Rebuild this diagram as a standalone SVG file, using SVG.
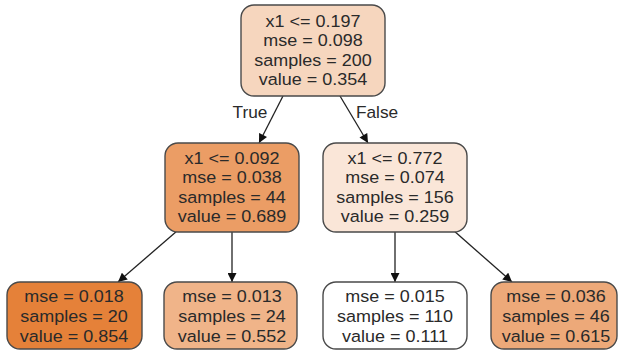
<svg xmlns="http://www.w3.org/2000/svg" width="621" height="351" viewBox="0 0 621 351">
<defs>
<marker id="arr" viewBox="0 0 10 10" refX="10" refY="5" markerWidth="10" markerHeight="9" markerUnits="userSpaceOnUse" orient="auto">
<path d="M0,0 L10,5 L0,10 z" fill="#111"/>
</marker>
</defs>
<style>
.box{stroke:#4a4a4a;stroke-width:1.4}
.t{font-family:"Liberation Sans",Arial,Helvetica,sans-serif;font-size:16.5px;fill:#2a2a2a;text-anchor:middle}
.lbl{font-family:"Liberation Sans",Arial,Helvetica,sans-serif;font-size:16px;fill:#2a2a2a;text-anchor:middle}
.e{stroke:#222;stroke-width:1.3;fill:none;marker-end:url(#arr)}
</style>
<rect width="621" height="351" fill="#ffffff"/>
<g id="edges">
<line class="e" x1="283" y1="96" x2="259" y2="143"/>
<line class="e" x1="340" y1="96" x2="368" y2="143"/>
<line class="e" x1="177" y1="231" x2="118" y2="282"/>
<line class="e" x1="232" y1="232" x2="232" y2="282"/>
<line class="e" x1="395" y1="232" x2="395" y2="282"/>
<line class="e" x1="453" y1="230" x2="512" y2="282"/>
<g transform="translate(250,0) scale(1.08,1)"><text class="lbl" x="0" y="118">True</text></g>
<g transform="translate(377,0) scale(1.08,1)"><text class="lbl" x="0" y="118">False</text></g>
</g>
<g id="root">
<rect class="box" x="241" y="5" width="144" height="91" rx="13" fill="#f6d6be"/>
<g transform="translate(313,0) scale(1.09,1)">
<text class="t" x="0" y="27">x1 &lt;= 0.197</text>
<text class="t" x="0" y="46.5">mse = 0.098</text>
<text class="t" x="0" y="66">samples = 200</text>
<text class="t" x="0" y="85.5">value = 0.354</text>
</g>
</g>
<g id="midL">
<rect class="box" x="165" y="143" width="134" height="89" rx="13" fill="#eb9d65"/>
<g transform="translate(232,0) scale(1.09,1)">
<text class="t" x="0" y="164">x1 &lt;= 0.092</text>
<text class="t" x="0" y="183.5">mse = 0.038</text>
<text class="t" x="0" y="203">samples = 44</text>
<text class="t" x="0" y="222.5">value = 0.689</text>
</g>
</g>
<g id="midR">
<rect class="box" x="323" y="143" width="144" height="89" rx="13" fill="#fae6d8"/>
<g transform="translate(395,0) scale(1.09,1)">
<text class="t" x="0" y="164">x1 &lt;= 0.772</text>
<text class="t" x="0" y="183.5">mse = 0.074</text>
<text class="t" x="0" y="203">samples = 156</text>
<text class="t" x="0" y="222.5">value = 0.259</text>
</g>
</g>
<g id="leaf1">
<rect class="box" x="7" y="282" width="135" height="67" rx="13" fill="#e58139"/>
<g transform="translate(74,0) scale(1.09,1)">
<text class="t" x="0" y="302">mse = 0.018</text>
<text class="t" x="0" y="322">samples = 20</text>
<text class="t" x="0" y="342">value = 0.854</text>
</g>
</g>
<g id="leaf2">
<rect class="box" x="164" y="282" width="133" height="67" rx="13" fill="#f0b489"/>
<g transform="translate(232,0) scale(1.09,1)">
<text class="t" x="0" y="302">mse = 0.013</text>
<text class="t" x="0" y="322">samples = 24</text>
<text class="t" x="0" y="342">value = 0.552</text>
</g>
</g>
<g id="leaf3">
<rect class="box" x="323" y="282" width="144" height="67" rx="13" fill="#ffffff"/>
<g transform="translate(395,0) scale(1.09,1)">
<text class="t" x="0" y="302">mse = 0.015</text>
<text class="t" x="0" y="322">samples = 110</text>
<text class="t" x="0" y="342">value = 0.111</text>
</g>
</g>
<g id="leaf4">
<rect class="box" x="491" y="282" width="126" height="67" rx="13" fill="#eda979"/>
<g transform="translate(556,0) scale(1.09,1)">
<text class="t" x="0" y="302">mse = 0.036</text>
<text class="t" x="0" y="322">samples = 46</text>
<text class="t" x="0" y="342">value = 0.615</text>
</g>
</g>
</svg>
